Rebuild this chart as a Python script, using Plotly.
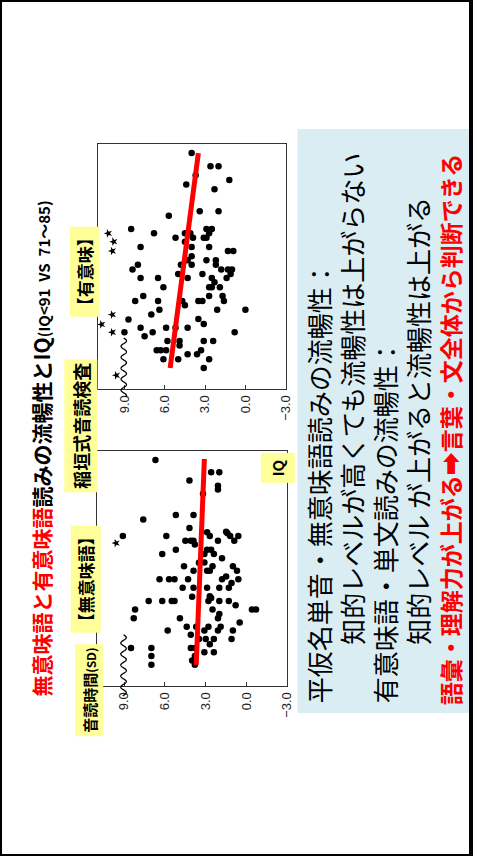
import numpy as np
import plotly.graph_objects as go

# ---------------- data ----------------
# 無意味語 (nonword) reading: IQ vs 音読時間 (SD)
nonword_iq = [93.1, 90.5, 90.5, 88.7, 87.6, 86.8, 85.9, 81.4, 81.4, 80.4,
              78.6, 77.7, 77.8, 77.5, 76.9, 76.9, 76.9, 76.9, 76.9, 75.9,
              75.9, 75.9, 75.1, 75.9, 75.9, 74.0, 74.0, 74.0, 73.1, 73.1,
              73.1, 72.2, 71.3, 71.2, 70.5, 70.5, 70.5, 69.5, 69.5, 69.5,
              69.5, 67.7, 67.7, 67.7, 67.7, 67.7, 68.3, 67.7, 66.9, 65.9,
              65.9, 65.9, 65.9, 65.9, 64.0, 64.1, 63.7, 63.1, 63.1, 63.1,
              63.1, 63.1, 63.1, 63.1, 61.3, 61.3, 62.2, 61.3, 61.3, 60.3,
              59.4, 59.4, 59.4, 58.5, 57.6, 57.6, 57.6, 57.6, 56.8, 56.8,
              56.8, 56.8, 55.9, 55.0, 55.0, 55.0, 55.0, 53.9, 53.1, 53.1,
              53.1, 53.1, 52.2, 52.2, 51.4, 51.4, 50.4, 49.5, 49.5]
nonword_sd = [6.7, 2.6, 2.0, 4.2, 2.1, 2.1, 3.2, 5.2, 3.9, 7.6,
              4.2, 2.9, 1.5, 1.4, 2.7, 1.2, 0.6, 9.1, 5.9, 4.5,
              4.1, 3.9, 3.8, 2.1, 0.9, 5.2, 2.9, 2.6, 6.2, 3.1,
              2.4, 1.8, 3.1, 3.5, 4.6, 2.5, 1.0, 3.9, 2.9, 2.7,
              0.7, 6.4, 5.7, 5.3, 4.3, 1.8, 1.5, 0.6, 1.1, 4.7,
              3.9, 2.9, 2.0, 1.3, 4.0, 2.7, 2.6, 7.2, 6.2, 5.5,
              5.3, 2.0, 1.3, 2.8, 8.2, 2.5, 0.8, -0.4, -0.7, 2.0,
              8.3, 4.9, 2.1, 0.5, 4.4, 3.7, 2.8, 1.9, 5.8, 3.1,
              2.1, 1.0, 4.1, 3.5, 3.0, 2.4, 1.1, 2.7, 8.5, 7.0,
              4.1, 3.8, 3.1, 2.4, 7.0, 3.8, 4.0, 7.0, 3.8]
nonword_star_iq = [75.4]
nonword_star_sd = [9.6]
nonword_fit_iq = [49.5, 93.3]
nonword_fit_sd = [3.7, 3.1]

# 有意味 (word) reading: IQ vs 音読時間 (SD)
word_iq = [93.2, 90.5, 90.5, 88.7, 87.7, 86.8, 85.8, 80.4, 81.3, 81.3,
           77.7, 76.8, 75.9, 76.8, 76.8, 75.9, 75.1, 77.7, 77.7, 76.8,
           75.9, 75.9, 74.0, 74.0, 74.0, 73.2, 73.2, 72.1, 71.3, 71.3,
           71.3, 70.4, 70.4, 70.4, 70.4, 69.4, 69.4, 69.4, 69.4, 68.5,
           67.7, 67.7, 68.5, 67.7, 68.5, 67.7, 67.7, 66.8, 65.8, 65.8,
           65.8, 65.8, 64.0, 63.0, 63.0, 63.0, 63.0, 63.0, 64.0, 64.0,
           63.0, 62.1, 61.2, 61.2, 61.2, 60.2, 59.2, 59.3, 58.3, 56.6,
           57.5, 56.6, 55.8, 57.5, 57.5, 57.5, 56.6, 54.8, 54.8, 53.9,
           54.8, 54.8, 52.9, 52.9, 52.9, 52.1, 52.1, 52.9, 51.1, 51.1,
           51.1, 49.3]
word_sd = [4.0, 2.6, 2.0, 3.7, 1.2, 4.4, 2.3, 5.7, 3.4, 2.0,
           8.5, 6.8, 5.2, 4.5, 4.1, 3.9, 4.5, 2.9, 2.5, 2.7,
           3.1, 2.9, 7.8, 4.0, 2.7, 1.3, 0.9, 4.0, 4.3, 2.9,
           2.2, 8.0, 4.8, 4.0, 2.2, 8.4, 1.8, 1.3, 1.0, 1.1,
           7.8, 6.5, 5.0, 4.3, 3.2, 2.5, 1.4, 2.3, 2.7, 2.5,
           1.9, 6.1, 7.6, 8.2, 6.5, 4.7, 3.5, 3.2, 2.7, 1.7,
           1.6, 4.5, 6.4, 2.1, 0.0, 7.0, 8.7, 3.5, 3.1, 9.0,
           7.8, 6.9, 7.5, 5.9, 5.2, 4.3, 0.8, 5.8, 4.9, 4.9,
           3.1, 2.4, 6.6, 6.3, 5.9, 4.3, 3.6, 3.3, 6.1, 5.0,
           2.7, 3.1]
word_star_iq = [76.8, 75.1, 73.2, 60.2, 58.2, 56.6, 47.8]
word_star_sd = [10.2, 9.8, 9.9, 9.9, 10.7, 9.9, 9.6]
word_fit_iq = [49.3, 93.2]
word_fit_sd = [5.6, 3.5]

sd_ticks = [-3, 0, 3, 6, 9]
sd_range = [11, -3]
iq_range = [45, 95]

# ---------------- layout helpers ----------------
W, H = 478, 856
JP = "Noto Sans CJK JP"


def fx(px):
    return px / W


def fy(py):
    return 1 - py / H


fig = go.Figure()

panels = [
    ("x", "y", nonword_iq, nonword_sd, nonword_star_iq, nonword_star_sd,
     nonword_fit_iq, nonword_fit_sd),
    ("x2", "y2", word_iq, word_sd, word_star_iq, word_star_sd,
     word_fit_iq, word_fit_sd),
]

for xa, ya, iq, sd, s_iq, s_sd, f_iq, f_sd in panels:
    fig.add_trace(go.Scatter(
        x=sd, y=iq, xaxis=xa, yaxis=ya, mode="markers",
        marker=dict(color="black", size=6.5, line=dict(width=0)),
        showlegend=False, hoverinfo="skip"))
    fig.add_trace(go.Scatter(
        x=s_sd, y=s_iq, xaxis=xa, yaxis=ya, mode="markers",
        marker=dict(color="black", size=6.5, symbol="star", angle=-90,
                    line=dict(width=0)),
        showlegend=False, hoverinfo="skip"))
    fig.add_trace(go.Scatter(
        x=f_sd, y=f_iq, xaxis=xa, yaxis=ya, mode="lines",
        line=dict(color="#FF0000", width=5),
        showlegend=False, hoverinfo="skip"))

axis_common = dict(showgrid=False, zeroline=False, showline=True,
                   mirror=True, linecolor="#333", linewidth=1)
x_common = dict(axis_common, range=sd_range, tickvals=sd_ticks,
                tickformat=".1f", tickangle=-90, ticks="inside",
                ticklen=4, tickcolor="#333", side="bottom",
                tickfont=dict(family="Liberation Sans", size=13,
                              color="#222"))
y_common = dict(axis_common, range=iq_range, showticklabels=False,
                ticks="")

fig.update_layout(
    width=W, height=H,
    margin=dict(l=0, r=0, t=0, b=0),
    paper_bgcolor="white", plot_bgcolor="white",
    xaxis=dict(x_common, domain=[fx(98.5), fx(291.5)], anchor="y"),
    yaxis=dict(y_common, domain=[fy(686), fy(451)], anchor="x"),
    xaxis2=dict(x_common, domain=[fx(99), fx(290)], anchor="y2"),
    yaxis2=dict(y_common, domain=[fy(389), fy(144.3)], anchor="x2"),
)

shapes = []
# slide frame
shapes.append(dict(type="rect", xref="paper", yref="paper", x0=0, x1=1,
                   y0=0, y1=1, line=dict(color="black", width=4),
                   fillcolor="rgba(0,0,0,0)"))
# summary panel
shapes.append(dict(type="rect", xref="paper", yref="paper",
                   x0=fx(302), x1=fx(476), y0=fy(713), y1=fy(129),
                   line=dict(width=0), fillcolor="#DAEDF3", layer="below"))


# axis-break squiggle near the 9.0 line
def squiggle(xa, ya, iq_top, iq_bottom, px_per_sd, px_len):
    t = np.linspace(0, 1, 200)
    span = sd_range[0] - sd_range[1]
    xc = (sd_range[0] - 9.05) / span
    amp = 2.8 / (px_per_sd * span)
    n_waves = px_len / 11.0
    xs = xc + amp * np.sin(2 * np.pi * n_waves * t)
    iq_vals = iq_top + (iq_bottom - iq_top) * t
    ys = (iq_vals - iq_range[0]) / (iq_range[1] - iq_range[0])
    path = "M " + " L ".join(f"{a:.5f},{b:.5f}" for a, b in zip(xs, ys))
    return dict(type="path", xref=f"{xa} domain", yref=f"{ya} domain",
                path=path, line=dict(color="black", width=1.3))


shapes.append(squiggle("x", "y", 55.9, 42.9, 13.83, 61))
shapes.append(squiggle("x2", "y2", 55.4, 43.4, 13.83, 59))
fig.update_layout(shapes=shapes)

ann = []


def label(text, cx, cy, size, bg=None, color="black", pad=1, anchor=("center", "middle")):
    d = dict(text=text, x=fx(cx), y=fy(cy), xref="paper", yref="paper",
             showarrow=False, textangle=-90, xanchor=anchor[0],
             yanchor=anchor[1],
             font=dict(family=JP, size=size, color=color), borderpad=pad)
    if bg:
        d["bgcolor"] = bg
    ann.append(d)


YEL = "#FFFF99"
# title
label("<b><span style='color:#FF0000'>無意味語と有意味語</span>読みの流暢性とIQ"
      "<span style='font-size:15px'>(IQ&lt;91  VS  71～85)</span></b>",
      42, 198, 21, anchor=("center", "top"))
# panel tags
label("<b>音読時間<span style='font-size:12px'>(SD)</span></b>", 90, 690, 15, bg=YEL, pad=3)
label("<b>【無意味語】</b>", 86.5, 579, 17, bg=YEL, pad=2)
label("<b>稲垣式音読検査</b>", 81.5, 425.5, 18, bg=YEL, pad=3)
label("<b>【有意味】</b>", 86, 271.5, 17, bg=YEL, pad=2)
label("<b>IQ</b>", 282, 467.5, 15, bg=YEL, pad=6)

# summary text
label("平仮名単音・無意味語読みの流暢性：", 323, 705, 26, anchor=("center", "bottom"))
label("知的レベルが高くても流暢性は上がらない", 356, 647, 26, anchor=("center", "bottom"))
label("有意味語・単文読みの流暢性：", 390, 705, 26, anchor=("center", "bottom"))
label("知的レベル が上がると流暢性は上がる", 423, 647, 26, anchor=("center", "bottom"))
label("<b>語彙・理解力が上がる➡言葉・文全体から判断できる</b>", 457, 707, 23,
      color="#FF0000", anchor=("center", "bottom"))

fig.update_layout(annotations=ann)
fig.write_html("out.html")
